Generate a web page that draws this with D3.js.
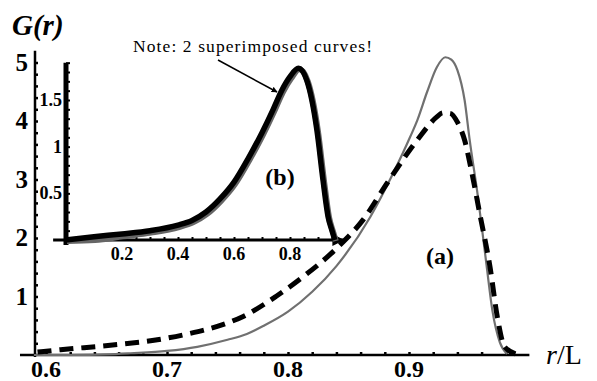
<!DOCTYPE html>
<html>
<head>
<meta charset="utf-8">
<script src="https://cdn.jsdelivr.net/npm/d3@7"></script>
<style>
  body { margin: 0; background: #fff; }
  text { font-family: "Liberation Serif", "Times New Roman", serif; }
</style>
</head>
<body>
<svg></svg>
<script>
let w = 597;
let h = 381;

// main plot (a): r/L and G(r)
const rSolid = [0.59, 0.62, 0.65, 0.67, 0.70, 0.725, 0.75, 0.766, 0.78, 0.80, 0.82, 0.84, 0.868, 0.887, 0.901, 0.907, 0.915, 0.923, 0.93, 0.935, 0.94, 0.946, 0.95, 0.957, 0.964, 0.969, 0.975, 0.981];
const gSolid = [0.0, 0.0, 0.01, 0.03, 0.07, 0.14, 0.26, 0.36, 0.50, 0.74, 1.08, 1.52, 2.36, 3.11, 3.73, 4.02, 4.50, 4.92, 5.09, 5.05, 4.87, 4.35, 3.70, 2.70, 1.55, 0.75, 0.22, 0.02];

const rDash = [0.593, 0.612, 0.655, 0.692, 0.717, 0.746, 0.763, 0.79, 0.812, 0.84, 0.862, 0.882, 0.907, 0.923, 0.928, 0.934, 0.94, 0.946, 0.952, 0.959, 0.967, 0.973, 0.979, 0.988];
const gDash = [0.05, 0.09, 0.17, 0.26, 0.36, 0.52, 0.66, 1.00, 1.33, 1.82, 2.31, 2.94, 3.68, 4.07, 4.14, 4.13, 3.98, 3.67, 3.11, 2.36, 1.50, 0.65, 0.14, 0.02];

// inset (b)
const rInset = [0.0, 0.1, 0.2, 0.3, 0.4, 0.45, 0.5, 0.55, 0.6, 0.65, 0.7, 0.74, 0.77, 0.80, 0.83, 0.86, 0.896, 0.918, 0.936, 0.95, 0.96];
const gInsetA = [0.0, 0.035, 0.065, 0.10, 0.16, 0.21, 0.30, 0.44, 0.62, 0.87, 1.15, 1.40, 1.60, 1.75, 1.84, 1.71, 1.18, 0.64, 0.25, 0.10, 0.0];
const gInsetB = [0.0, 0.01, 0.05, 0.09, 0.15, 0.20, 0.29, 0.43, 0.61, 0.86, 1.14, 1.39, 1.59, 1.74, 1.84, 1.71, 1.18, 0.64, 0.25, 0.10, 0.0];

const xMajor = [0.6, 0.7, 0.8, 0.9];
const yMajor = [1, 2, 3, 4, 5];
const insetXMajor = [0.2, 0.4, 0.6, 0.8];
const insetYMajor = [0.5, 1, 1.5];

const svg = d3.select('svg')
  .attr('width', w)
  .attr('height', h)

// Create Scales
const xScale = d3.scaleLinear()
  .domain([0.7, 0.9])
  .range([167, 409])

const yScale = d3.scaleLinear()
  .domain([0, 5])
  .range([355, 62.5])

const xIn = d3.scaleLinear()
  .domain([0, 0.8])
  .range([66, 290])

const yIn = d3.scaleLinear()
  .domain([0, 1.5])
  .range([240, 100])

// Draw Axes (main)
const xMinor = d3.range(0.58, 0.99, 0.02).filter(v => v > 0.585);
const xAxis = d3.axisBottom(xScale)
  .tickValues(xMinor)
  .tickSize(-3)
  .tickFormat('')
svg.append('g')
  .attr('transform', 'translate(0,355)')
  .attr('id', 'x-axis')
  .call(xAxis)
  .call(g => g.select('.domain').remove())
  .call(g => g.selectAll('line').attr('stroke-width', 2.5))

svg.append('line')
  .attr('x1', xScale(0.5785)).attr('x2', xScale(0.9995))
  .attr('y1', 355).attr('y2', 355)
  .attr('stroke', '#000').attr('stroke-width', 2.5)

svg.selectAll('.xlab')
  .data(xMajor)
  .enter()
  .append('text')
  .attr('x', d => xScale(d))
  .attr('y', 377)
  .attr('text-anchor', 'middle')
  .attr('font-weight', 'bold')
  .attr('font-size', 24)
  .text(d => d.toFixed(1))

const yMinor = d3.range(0.2, 5.1, 0.2);
const yAxis = d3.axisLeft(yScale)
  .tickValues(yMinor)
  .tickSize(-3)
  .tickFormat('')
svg.append('g')
  .attr('transform', 'translate(35,0)')
  .attr('id', 'y-axis')
  .call(yAxis)
  .call(g => g.select('.domain').remove())
  .call(g => g.selectAll('line').attr('stroke-width', 2.5))

svg.append('line')
  .attr('x1', 35).attr('x2', 35)
  .attr('y1', yScale(5.2)).attr('y2', 357)
  .attr('stroke', '#000').attr('stroke-width', 2.5)

svg.selectAll('.ylab')
  .data(yMajor)
  .enter()
  .append('text')
  .attr('x', 28)
  .attr('y', d => yScale(d) + 8)
  .attr('text-anchor', 'end')
  .attr('font-weight', 'bold')
  .attr('font-size', 25)
  .text(d => d)

// Draw curves (main)
const line = d3.line()
  .x(d => xScale(d[0]))
  .y(d => yScale(d[1]))
  .curve(d3.curveMonotoneX)

svg.append('path')
  .datum(d3.zip(rSolid, gSolid))
  .attr('d', line)
  .attr('fill', 'none')
  .attr('stroke', '#707070')
  .attr('stroke-width', 2.2)

svg.append('path')
  .datum(d3.zip(rDash, gDash))
  .attr('d', line)
  .attr('fill', 'none')
  .attr('stroke', '#000')
  .attr('stroke-width', 5)
  .attr('stroke-dasharray', '14,8')

// Inset axes
svg.append('defs').append('marker')
  .attr('id', 'arr')
  .attr('viewBox', '0 0 10 10')
  .attr('refX', 9).attr('refY', 5)
  .attr('markerWidth', 4).attr('markerHeight', 4)
  .attr('orient', 'auto')
  .append('path')
  .attr('d', 'M0,0 L10,5 L0,10 z')
  .attr('fill', '#000')

svg.append('line')
  .attr('x1', xIn(-0.046)).attr('x2', xIn(0.99))
  .attr('y1', 240).attr('y2', 240)
  .attr('stroke', '#000').attr('stroke-width', 3)
  .attr('marker-end', 'url(#arr)')

const inXMinor = d3.range(0.05, 0.96, 0.05);
svg.append('g')
  .attr('transform', 'translate(0,240)')
  .call(d3.axisBottom(xIn).tickValues(inXMinor).tickSize(-3).tickFormat(''))
  .call(g => g.select('.domain').remove())
  .call(g => g.selectAll('line').attr('stroke-width', 2))

svg.selectAll('.ixlab')
  .data(insetXMajor)
  .enter()
  .append('text')
  .attr('x', d => xIn(d))
  .attr('y', 260)
  .attr('text-anchor', 'middle')
  .attr('font-weight', 'bold')
  .attr('font-size', 18)
  .text(d => d.toFixed(1))

svg.append('line')
  .attr('x1', 66).attr('x2', 66)
  .attr('y1', yIn(1.9)).attr('y2', 245)
  .attr('stroke', '#000').attr('stroke-width', 5)

const inYMinor = d3.range(0.1, 1.95, 0.1);
svg.append('g')
  .attr('transform', 'translate(66,0)')
  .call(d3.axisLeft(yIn).tickValues(inYMinor).tickSize(-4).tickFormat(''))
  .call(g => g.select('.domain').remove())
  .call(g => g.selectAll('line').attr('stroke-width', 2))

svg.selectAll('.iylab')
  .data(insetYMajor)
  .enter()
  .append('text')
  .attr('x', 62)
  .attr('y', d => yIn(d) + 6)
  .attr('text-anchor', 'end')
  .attr('font-weight', 'bold')
  .attr('font-size', 18)
  .text(d => d)

// Inset curves
const lineIn = d3.line()
  .x(d => xIn(d[0]))
  .y(d => yIn(d[1]))
  .curve(d3.curveMonotoneX)

svg.append('path')
  .datum(d3.zip(rInset, gInsetB))
  .attr('d', lineIn)
  .attr('fill', 'none')
  .attr('stroke', '#666')
  .attr('stroke-width', 6)
  .attr('transform', 'translate(1,1)')

svg.append('path')
  .datum(d3.zip(rInset, gInsetA))
  .attr('d', lineIn)
  .attr('fill', 'none')
  .attr('stroke', '#000')
  .attr('stroke-width', 5.5)

// Labels
svg.append('text')
  .attr('x', 12).attr('y', 35)
  .attr('font-size', 29)
  .attr('font-weight', 'bold')
  .attr('font-style', 'italic')
  .text('G(r)')

const rl = svg.append('text')
  .attr('x', 546).attr('y', 364)
  .attr('font-size', 28)
rl.append('tspan').attr('font-style', 'italic').text('r')
rl.append('tspan').text('/L')

svg.append('text')
  .attr('x', 440).attr('y', 264)
  .attr('text-anchor', 'middle')
  .attr('font-size', 24)
  .attr('font-weight', 'bold')
  .text('(a)')

svg.append('text')
  .attr('x', 280).attr('y', 185)
  .attr('text-anchor', 'middle')
  .attr('font-size', 24)
  .attr('font-weight', 'bold')
  .text('(b)')

svg.append('text')
  .attr('x', 133).attr('y', 52)
  .attr('font-size', 17.5)
  .attr('textLength', 239)
  .attr('lengthAdjust', 'spacing')
  .text('Note: 2 superimposed curves!')

svg.append('line')
  .attr('x1', 218).attr('y1', 60)
  .attr('x2', 277).attr('y2', 92)
  .attr('stroke', '#000').attr('stroke-width', 1.5)
  .attr('marker-end', 'url(#arr)')
</script>
</body>
</html>
